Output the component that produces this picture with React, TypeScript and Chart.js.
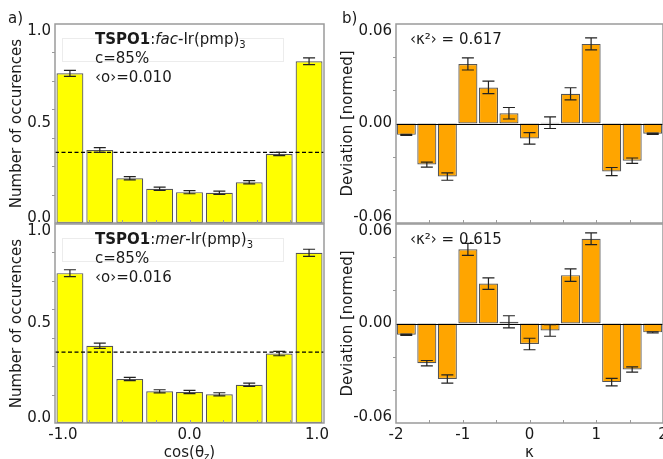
import React, { useEffect, useRef } from "react";
import { Chart, registerables } from "chart.js";

Chart.register(...registerables);

const W = 663;
const H = 459;
const FAMILY = "'DejaVu Sans', 'Liberation Sans', sans-serif";
const TEXT = "#1a1a1a";

// ---- data ----
const cosBinCenters = [-0.889, -0.667, -0.444, -0.222, 0, 0.222, 0.444, 0.667, 0.889];
const facOccurrences = [0.752, 0.367, 0.225, 0.172, 0.155, 0.152, 0.205, 0.347, 0.813];
const facOccErr = [0.015, 0.012, 0.008, 0.008, 0.008, 0.008, 0.008, 0.008, 0.017];
const merOccurrences = [0.753, 0.388, 0.221, 0.159, 0.156, 0.144, 0.192, 0.349, 0.855];
const merOccErr = [0.017, 0.013, 0.008, 0.008, 0.008, 0.008, 0.008, 0.011, 0.018];
const facIsotropic = 0.355;
const merIsotropic = 0.356;

const kappaBinCenters = [-1.846, -1.538, -1.231, -0.923, -0.615, -0.308, 0, 0.308, 0.615, 0.923, 1.231, 1.538, 1.846];
const facDeviation = [-0.0073, -0.0264, -0.0341, 0.0383, 0.0232, 0.0066, -0.0096, 0.0005, 0.0191, 0.0512, -0.0309, -0.0239, -0.0066];
const facDevErr = [0.0004, 0.0016, 0.0024, 0.0039, 0.004, 0.0037, 0.0037, 0.0037, 0.0039, 0.0039, 0.0026, 0.0017, 0.0004];
const merDeviation = [-0.0072, -0.0255, -0.0357, 0.0477, 0.0257, 0.0011, -0.0132, -0.0045, 0.0311, 0.0545, -0.0377, -0.0296, -0.0057];
const merDevErr = [0.0004, 0.0017, 0.0026, 0.0039, 0.0037, 0.0039, 0.0037, 0.0037, 0.004, 0.0038, 0.0024, 0.0017, 0.0004];

// ---- axes ----
const leftYTicks = [0, 0.5, 1.0];
const leftYTickLabels = ["0.0", "0.5", "1.0"];
const leftYMinor = [0.143, 0.286, 0.429, 0.571, 0.714, 0.857];
const leftXTicks = [-1, 0, 1];
const leftXTickLabels = ["-1.0", "0.0", "1.0"];
const leftXMinor = [-0.75, -0.5, -0.25, 0, 0.25, 0.5, 0.75];

const rightYTicks = [-0.06, 0, 0.06];
const rightYTickLabels = ["-0.06", "0.00", "0.06"];
const rightYMinor = [-0.0427, -0.0213, 0.0213, 0.0427];
const rightXTicks = [-2, -1, 0, 1, 2];
const rightXTickLabels = ["-2", "-1", "0", "1", "2"];
const rightXMinor = [-1.5, -1, -0.5, 0, 0.5, 1, 1.5];

type Seg = { t: string; w?: string; s?: string; size?: number; dy?: number };

type Panel = {
  key: string;
  xs: number[];
  ys: number[];
  err: number[];
  color: string;
  barPct: number;
  xMin: number;
  xMax: number;
  yMin: number;
  yMax: number;
  area: { l: number; t: number; r: number; b: number };
  refLine: number | null;
  zeroLine: boolean;
  yTicks: number[];
  yTickLabels: string[];
  yMinor: number[];
  xTicks: number[];
  xTickLabels: string[];
  xMinor: number[];
  showXLabels: boolean;
  xLabelInset: number;
  yTitle: string;
  yTitleX: number;
  xTitle: Seg[] | null;
  letter: string | null;
  letterX: number;
  notes: Seg[][];
  notesX: number;
  notesDy: number[];
  noteBox: boolean;
};

function fontOf(g: Seg) {
  return `${g.s || "normal"} ${g.w || "normal"} ${g.size || 15}px ${FAMILY}`;
}

function drawRich(ctx: CanvasRenderingContext2D, segs: Seg[], x: number, y: number, align: "left" | "center") {
  let total = 0;
  segs.forEach((g) => {
    ctx.font = fontOf(g);
    total += ctx.measureText(g.t).width;
  });
  let cx = align === "center" ? x - total / 2 : x;
  ctx.textAlign = "left";
  ctx.textBaseline = "alphabetic";
  segs.forEach((g) => {
    ctx.font = fontOf(g);
    ctx.fillText(g.t, cx, y + (g.dy || 0));
    cx += ctx.measureText(g.t).width;
  });
}

function clamp(v: number, lo: number, hi: number) {
  return Math.max(lo, Math.min(hi, v));
}

function decorPlugin(p: Panel) {
  return {
    id: "decor-" + p.key,
    afterDatasetsDraw(chart: any) {
      const ctx: CanvasRenderingContext2D = chart.ctx;
      const a = chart.chartArea;
      const xs = chart.scales.x;
      const ys = chart.scales.y;
      ctx.save();

      // faint legend frame
      if (p.noteBox) {
        ctx.strokeStyle = "#ececec";
        ctx.lineWidth = 1;
        ctx.strokeRect(62.5, a.top + 14.5, 221, 23);
      }

      // reference (isotropic) line
      if (p.refLine !== null) {
        const y = ys.getPixelForValue(p.refLine);
        ctx.strokeStyle = "#000";
        ctx.lineWidth = 1.2;
        ctx.setLineDash([4, 2.5]);
        ctx.beginPath();
        ctx.moveTo(a.left, y);
        ctx.lineTo(a.right, y);
        ctx.stroke();
        ctx.setLineDash([]);
      }

      // zero line
      if (p.zeroLine) {
        const y = Math.round(ys.getPixelForValue(0)) + 0.5;
        ctx.strokeStyle = "#000";
        ctx.lineWidth = 1.2;
        ctx.beginPath();
        ctx.moveTo(a.left, y);
        ctx.lineTo(a.right, y);
        ctx.stroke();
      }

      // error bars
      const meta = chart.getDatasetMeta(0);
      ctx.strokeStyle = "#222";
      ctx.lineWidth = 1.2;
      meta.data.forEach((el: any, i: number) => {
        const x = el.x;
        const y1 = ys.getPixelForValue(p.ys[i] + p.err[i]);
        const y2 = ys.getPixelForValue(p.ys[i] - p.err[i]);
        ctx.beginPath();
        ctx.moveTo(x, y1);
        ctx.lineTo(x, y2);
        ctx.moveTo(x - 6, y1);
        ctx.lineTo(x + 6, y1);
        ctx.moveTo(x - 6, y2);
        ctx.lineTo(x + 6, y2);
        ctx.stroke();
      });

      // frame
      ctx.strokeStyle = "#9a9a9a";
      ctx.lineWidth = 1.5;
      ctx.strokeRect(a.left, a.top, a.right - a.left, a.bottom - a.top);

      // minor tick marks
      ctx.lineWidth = 1;
      ctx.strokeStyle = "#9a9a9a";
      ctx.beginPath();
      p.xMinor.forEach((v) => {
        const x = Math.round(xs.getPixelForValue(v)) + 0.5;
        ctx.moveTo(x, a.bottom);
        ctx.lineTo(x, a.bottom - 3);
      });
      p.yMinor.forEach((v) => {
        const y = Math.round(ys.getPixelForValue(v)) + 0.5;
        ctx.moveTo(a.left, y);
        ctx.lineTo(a.left - 3, y);
      });
      ctx.stroke();

      // y tick labels
      ctx.fillStyle = TEXT;
      ctx.font = `15px ${FAMILY}`;
      ctx.textAlign = "right";
      ctx.textBaseline = "middle";
      p.yTicks.forEach((v, i) => {
        const y = clamp(ys.getPixelForValue(v), a.top + 7, a.bottom - 5);
        ctx.fillText(p.yTickLabels[i], a.left - 4, y);
      });

      // x tick labels
      if (p.showXLabels) {
        ctx.textAlign = "center";
        ctx.textBaseline = "alphabetic";
        p.xTicks.forEach((v, i) => {
          const x = clamp(xs.getPixelForValue(v), a.left + p.xLabelInset, a.right - p.xLabelInset + 1);
          ctx.fillText(p.xTickLabels[i], x, a.bottom + 16);
        });
      }

      // y title
      ctx.save();
      ctx.translate(p.yTitleX, (a.top + a.bottom) / 2);
      ctx.rotate(-Math.PI / 2);
      ctx.textAlign = "center";
      ctx.textBaseline = "middle";
      ctx.font = `15px ${FAMILY}`;
      ctx.fillText(p.yTitle, 0, 0);
      ctx.restore();

      // x title
      if (p.xTitle) {
        drawRich(ctx, p.xTitle, (a.left + a.right) / 2, 457, "center");
      }

      // panel letter
      if (p.letter) {
        ctx.font = `15px ${FAMILY}`;
        ctx.textAlign = "left";
        ctx.textBaseline = "middle";
        ctx.fillText(p.letter, p.letterX, 19);
      }

      // annotations
      p.notes.forEach((segs, i) => {
        drawRich(ctx, segs, p.notesX, a.top + p.notesDy[i], "left");
      });

      ctx.restore();
    },
  };
}

const leftCommon = {
  color: "#ffff00",
  barPct: 0.9,
  xMin: -1,
  xMax: 1,
  yMin: 0,
  yMax: 1.0,
  zeroLine: false,
  yTicks: leftYTicks,
  yTickLabels: leftYTickLabels,
  yMinor: leftYMinor,
  xTicks: leftXTicks,
  xTickLabels: leftXTickLabels,
  xMinor: leftXMinor,
  xLabelInset: 8,
  yTitle: "Number of occurences",
  yTitleX: 17.5,
  letterX: 8,
  notesX: 95,
  notesDy: [20, 39, 58],
  noteBox: true,
};

const rightCommon = {
  color: "#ffa500",
  barPct: 0.93,
  xMin: -2,
  xMax: 2,
  yMin: -0.064,
  yMax: 0.064,
  refLine: null,
  zeroLine: true,
  yTicks: rightYTicks,
  yTickLabels: rightYTickLabels,
  yMinor: rightYMinor,
  xTicks: rightXTicks,
  xTickLabels: rightXTickLabels,
  xMinor: rightXMinor,
  xLabelInset: 0,
  yTitle: "Deviation [normed]",
  yTitleX: 348.5,
  letterX: 342,
  notesX: 410,
  notesDy: [20],
  noteBox: false,
};

const panels: Panel[] = [
  {
    ...leftCommon,
    key: "fac-occ",
    xs: cosBinCenters,
    ys: facOccurrences,
    err: facOccErr,
    area: { l: 55, t: 24, r: 324, b: 223 },
    refLine: facIsotropic,
    showXLabels: false,
    xTitle: null,
    letter: "a)",
    notes: [
      [{ t: "TSPO1", w: "bold" }, { t: ":" }, { t: "fac", s: "italic" }, { t: "-Ir(pmp)" }, { t: "3", size: 10, dy: 4 }],
      [{ t: "c=85%" }],
      [{ t: "\u2039o\u203A=0.010" }],
    ],
  },
  {
    ...leftCommon,
    key: "mer-occ",
    xs: cosBinCenters,
    ys: merOccurrences,
    err: merOccErr,
    area: { l: 55, t: 224, r: 324, b: 423 },
    refLine: merIsotropic,
    showXLabels: true,
    xTitle: [{ t: "cos(\u03B8" }, { t: "z", size: 10, dy: 3 }, { t: ")" }],
    letter: null,
    notes: [
      [{ t: "TSPO1", w: "bold" }, { t: ":" }, { t: "mer", s: "italic" }, { t: "-Ir(pmp)" }, { t: "3", size: 10, dy: 4 }],
      [{ t: "c=85%" }],
      [{ t: "\u2039o\u203A=0.016" }],
    ],
  },
  {
    ...rightCommon,
    key: "fac-dev",
    xs: kappaBinCenters,
    ys: facDeviation,
    err: facDevErr,
    area: { l: 396, t: 24, r: 663, b: 223 },
    showXLabels: false,
    xTitle: null,
    letter: "b)",
    notes: [[{ t: "\u2039\u03BA\u00B2\u203A = 0.617" }]],
  },
  {
    ...rightCommon,
    key: "mer-dev",
    xs: kappaBinCenters,
    ys: merDeviation,
    err: merDevErr,
    area: { l: 396, t: 224, r: 663, b: 423 },
    showXLabels: true,
    xTitle: [{ t: "\u03BA" }],
    letter: null,
    notes: [[{ t: "\u2039\u03BA\u00B2\u203A = 0.615" }]],
  },
];

function PanelChart({ p }: { p: Panel }) {
  const ref = useRef<HTMLCanvasElement>(null);
  useEffect(() => {
    const chart = new Chart(ref.current as HTMLCanvasElement, {
      type: "bar",
      data: {
        datasets: [
          {
            data: p.xs.map((x, i) => ({ x, y: p.ys[i] })) as any,
            backgroundColor: p.color,
            borderColor: "#555555",
            borderWidth: 1.2,
            borderSkipped: false,
            barPercentage: p.barPct,
            categoryPercentage: 1,
          },
        ],
      },
      options: {
        responsive: false,
        animation: false,
        devicePixelRatio: 1,
        events: [],
        layout: {
          padding: { left: p.area.l, top: p.area.t, right: W - p.area.r, bottom: H - p.area.b },
        },
        plugins: { legend: { display: false }, tooltip: { enabled: false } },
        scales: {
          x: { type: "linear", display: false, min: p.xMin, max: p.xMax, offset: false },
          y: { type: "linear", display: false, min: p.yMin, max: p.yMax },
        },
      } as any,
      plugins: [decorPlugin(p) as any],
    });
    return () => chart.destroy();
  }, [p]);
  return (
    <canvas
      ref={ref}
      width={W}
      height={H}
      style={{ position: "absolute", left: 0, top: 0, width: W, height: H }}
    />
  );
}

export default function App() {
  return (
    <div style={{ position: "fixed", left: 0, top: 0, width: W, height: H, background: "#ffffff", overflow: "hidden" }}>
      {panels.map((p) => (
        <PanelChart key={p.key} p={p} />
      ))}
    </div>
  );
}
